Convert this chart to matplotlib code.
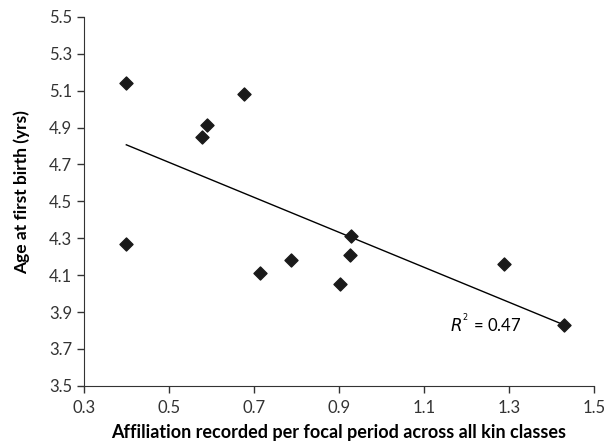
import numpy as np
import matplotlib
matplotlib.use('Agg')
import matplotlib.pyplot as plt

plt.rcParams['font.family'] = ['Lato', 'DejaVu Sans']

# affiliation per focal period vs age at first birth
affiliation = [0.40, 0.40, 0.578, 0.589, 0.676, 0.714, 0.787, 0.902, 0.926, 0.928, 1.288, 1.43]
age_first_birth = [5.14, 4.27, 4.85, 4.915, 5.083, 4.11, 4.18, 4.05, 4.21, 4.31, 4.16, 3.83]

x = np.array(affiliation)
y = np.array(age_first_birth)

fig = plt.figure(figsize=(6.07, 4.44), dpi=100)
ax = fig.add_axes([0.138, 0.131, 0.841, 0.831])

ax.scatter(x, y, marker='D', s=44, color='#1a1a1a', zorder=3)

# linear trend line
slope, intercept = np.polyfit(x, y, 1)
xs = np.array([x.min(), x.max()])
ax.plot(xs, slope * xs + intercept, color='black', lw=1)

ax.text(1.16, 3.84, r'$R^{^2}$ = 0.47', fontsize=12, va='center', ha='left')

ax.set_xlim(0.3, 1.5)
ax.set_ylim(3.5, 5.5)
ax.set_xticks(np.arange(0.3, 1.51, 0.2))
ax.set_yticks(np.arange(3.5, 5.51, 0.2))
ax.set_xticklabels(['0.3', '0.5', '0.7', '0.9', '1.1', '1.3', '1.5'])
ax.set_yticklabels(['3.5', '3.7', '3.9', '4.1', '4.3', '4.5', '4.7', '4.9', '5.1', '5.3', '5.5'])
ax.tick_params(direction='out', length=5, width=1, labelsize=12, color='#333333', labelcolor='#333333')
ax.tick_params(axis='x', pad=5)
for s in ['top', 'right']:
    ax.spines[s].set_visible(False)
for s in ['left', 'bottom']:
    ax.spines[s].set_color('#333333')

ax.set_xlabel('Affiliation recorded per focal period across all kin classes', fontsize=13, fontweight='bold', labelpad=6)
ax.set_ylabel('Age at first birth (yrs)', fontsize=12.5, fontweight='bold')
ax.yaxis.set_label_coords(-0.105, 0.525)

fig.savefig('out.png', dpi=100)
